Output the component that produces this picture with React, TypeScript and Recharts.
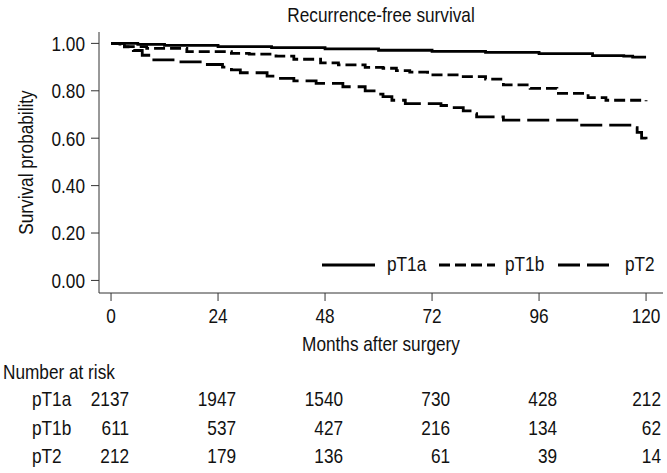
import React from 'react';
import { LineChart, Line, XAxis, YAxis } from 'recharts';

// ---- data ----
const monthTicks = [0, 24, 48, 72, 96, 120];
const survTicks = [0, 0.2, 0.4, 0.6, 0.8, 1.0];

const riskGroups = ['pT1a', 'pT1b', 'pT2'];
const riskPT1a = [2137, 1947, 1540, 730, 428, 212];
const riskPT1b = [611, 537, 427, 216, 134, 62];
const riskPT2 = [212, 179, 136, 61, 39, 14];

const pT1aMonths = [0, 6, 12, 24, 36, 48, 60, 72, 84, 96, 108, 115, 117, 120];
const pT1aSurv = [1.0, 0.996, 0.992, 0.986, 0.982, 0.977, 0.971, 0.966, 0.962, 0.957, 0.948, 0.946, 0.942, 0.942];

const pT1bMonths = [0, 2, 8, 17, 27, 31, 37, 41, 47, 51, 57, 61, 64, 67, 71, 78, 84, 88, 94, 100, 107, 111, 120];
const pT1bSurv = [1.0, 0.986, 0.979, 0.965, 0.958, 0.955, 0.946, 0.933, 0.918, 0.909, 0.899, 0.895, 0.885, 0.879, 0.867, 0.86, 0.849, 0.825, 0.81, 0.789, 0.771, 0.76, 0.756];

const pT2Months = [0, 3, 5, 7, 9, 15, 20, 25, 27, 29, 35, 38, 41, 46, 52, 57, 59, 61, 63, 66, 74, 76, 79, 81, 82, 88, 105, 117, 118, 119, 120];
const pT2Surv = [1.0, 0.985, 0.97, 0.95, 0.93, 0.922, 0.911, 0.9, 0.888, 0.876, 0.862, 0.852, 0.842, 0.831, 0.817, 0.8, 0.786, 0.775, 0.76, 0.746, 0.738, 0.729, 0.715, 0.704, 0.69, 0.676, 0.655, 0.645, 0.625, 0.6, 0.58];

const toSeries = (ms: number[], vs: number[]) => ms.map((m, i) => ({ m, v: vs[i] }));
const dataPT1a = toSeries(pT1aMonths, pT1aSurv);
const dataPT1b = toSeries(pT1bMonths, pT1bSurv);
const dataPT2 = toSeries(pT2Months, pT2Surv);
const riskRows = [riskPT1a, riskPT1b, riskPT2];

const FONT = "'Liberation Sans', Arial, sans-serif";
const FS = 21;
const TXT = '#111';
const AX = '#333';
const SX = 0.82; // horizontal condensing to mimic a narrow face

const rowBaselines = [406, 435, 463];

const NText = ({ x, y, anchor = 'start', dy, rotate, children }: any) => (
  <text
    transform={`translate(${x},${y})${rotate ? ` rotate(${rotate})` : ''} scale(${SX},1)`}
    x={0}
    y={0}
    dy={dy}
    textAnchor={anchor}
    fontFamily={FONT}
    fontSize={FS}
    fill={TXT}
  >
    {children}
  </text>
);

const MonthTick = (props: any) => {
  const { x, y, payload } = props;
  const idx = monthTicks.indexOf(payload.value);
  return (
    <g>
      <NText x={x} y={y} dy="0.71em" anchor="middle">{payload.value}</NText>
      {idx >= 0 &&
        riskRows.map((row, r) => (
          <NText key={r} x={Math.min(x + 18, 661)} y={rowBaselines[r]} anchor="end">
            {row[idx]}
          </NText>
        ))}
    </g>
  );
};

const SurvTick = (props: any) => {
  const { x, y, payload } = props;
  return (
    <NText x={x} y={y} dy="0.355em" anchor="end">{Number(payload.value).toFixed(2)}</NText>
  );
};

export default function App() {
  return (
    <div style={{ position: 'absolute', left: 0, top: 0, width: 667, height: 473, background: '#fff' }}>
      <LineChart width={667} height={473} margin={{ top: 32, right: 4, bottom: 150, left: 39 }}>
        <XAxis
          type="number"
          dataKey="m"
          domain={[-2.7, 123.8]}
          ticks={monthTicks}
          height={30}
          tickSize={8}
          tickMargin={7}
          stroke={AX}
          tick={<MonthTick />}
          allowDataOverflow
        />
        <YAxis
          type="number"
          domain={[-0.053, 1.048]}
          ticks={survTicks}
          width={60}
          tickSize={8}
          tickMargin={6}
          stroke={AX}
          tick={<SurvTick />}
          allowDataOverflow
        />
        <Line data={dataPT1a} dataKey="v" type="stepAfter" stroke="#000" strokeWidth={2.8} dot={false} isAnimationActive={false} />
        <Line data={dataPT1b} dataKey="v" type="stepAfter" stroke="#000" strokeWidth={2.8} strokeDasharray="11 5" dot={false} isAnimationActive={false} />
        <Line data={dataPT2} dataKey="v" type="stepAfter" stroke="#000" strokeWidth={2.8} strokeDasharray="22 7" dot={false} isAnimationActive={false} />
      </LineChart>
      <svg
        width={667}
        height={473}
        style={{ position: 'absolute', left: 0, top: 0, pointerEvents: 'none' }}
      >
        <NText x={381} y={22} anchor="middle">Recurrence-free survival</NText>
        <NText x={26} y={162.5} anchor="middle" dy="0.35em" rotate={-90}>Survival probability</NText>
        <NText x={381} y={351} anchor="middle">Months after surgery</NText>
        <NText x={3} y={379}>Number at risk</NText>
        {riskGroups.map((g, i) => (
          <NText key={g} x={32} y={rowBaselines[i]}>{g}</NText>
        ))}
        {/* legend */}
        <line x1={322} y1={265} x2={375} y2={265} stroke="#000" strokeWidth={2.8} />
        <NText x={387} y={271}>pT1a</NText>
        <line x1={439} y1={265} x2={495} y2={265} stroke="#000" strokeWidth={2.8} strokeDasharray="11 5" />
        <NText x={505} y={271}>pT1b</NText>
        <line x1={558} y1={265} x2={615} y2={265} stroke="#000" strokeWidth={2.8} strokeDasharray="22 7" />
        <NText x={625} y={271}>pT2</NText>
      </svg>
    </div>
  );
}
